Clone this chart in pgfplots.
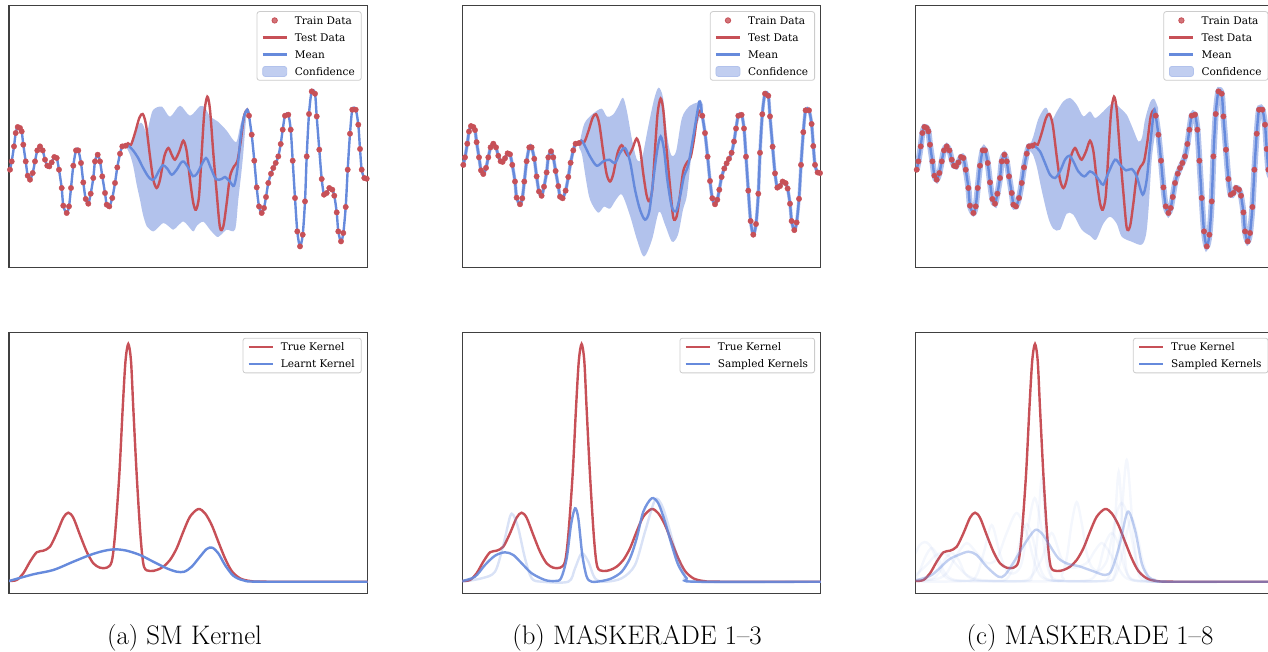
\documentclass[border=0pt]{standalone}
\usepackage{fontspec}
\usepackage{pgfplots}
\pgfplotsset{compat=1.18}
\usepackage{pgfplotstable}
\usepgfplotslibrary{fillbetween}
\newfontfamily\legfont{DejaVu Serif}
\definecolor{kred}{RGB}{199,80,87}
\definecolor{kblue}{RGB}{102,138,220}
\definecolor{kband}{RGB}{178,194,236}
\definecolor{frame}{RGB}{64,64,64}

% shared series (x, y in panel units)
\pgfplotstableread{
x y
10 98
11.7 106.3
14 121.3
15.7 134.7
17.7 140.7
20 139.7
21.7 136.3
23.3 123
25.7 106.3
27.7 92
30 88
32.7 94.7
35 106.3
37.3 117.3
40 121.3
42.7 117.3
45 108
47.3 102
49.3 101.3
51.7 105.3
54.3 110.7
56.7 109.7
59 98
61.7 79.7
63.3 62
66.7 54.7
69 61.3
71 79.7
73.3 102
76 117.3
78.3 117.3
81 104.7
83.3 85.3
85.7 68.7
88.3 64
90.7 74
93.3 89.7
95 106.3
97.7 113
100 106.3
102.3 91.3
105 74.7
106.7 63
109.3 61.3
112.3 69.7
115 84.7
117.3 100.3
120 114
122.3 121.3
125.7 122
}\trainL
\pgfplotstableread{
x y
249 152
251.7 133
254.3 107
256.7 80.3
259 61.3
261.7 54.7
264 59.7
266 70.7
268.3 84.7
271 94
273.3 99.7
275.7 104.7
278.3 111.3
280.7 123.7
282.7 138
285 152
288.3 153
290.7 138
292.7 107
295 69.7
297.3 36.3
300 21.3
302.7 33
305 66.3
306.7 111.3
309 153.7
311.7 176.3
315 174
316.7 151.3
319.3 118
321.7 88.7
324 73
326.7 74.7
329.3 79.7
332.3 78
334.3 72
336.7 55.3
338.3 36.3
341 26.3
343.3 34.7
345.7 60.7
347.7 98
350 134
352.3 158
355.7 158
358.3 143
360 118.7
361.7 98
364.3 89.7
366.7 89
}\trainR
\pgfplotstableread{
x y
125.7 122
128 124.5
131 123
135 134.7
139.3 149.7
142.7 153.7
146 143
150 111.3
153.3 88
156.7 79.7
160 88
164.3 111.3
168.3 119.7
171.7 113
175 108
179.3 116.3
183.3 127
186.7 116.3
190 88
193.3 64.7
196 58
199 71.3
201.7 114.7
204.3 154.7
207.3 171
210 158
213.3 114.7
216.7 74.7
220 40
223.3 41.3
226.7 64.7
230 91.3
234 101.3
237.3 106.3
240.7 126.3
244 151.3
247.3 158
249 152
}\testD
\pgfplotstableread{
x y
9 12
16.7 13
23.3 19.7
30 31.3
36.7 40.7
43.3 42.3
50 46.3
56.7 59.7
63.3 75.3
68.3 80.3
73.3 75.3
80 58
86.7 41.3
93.3 29.7
100 25.3
106.7 25.3
111.7 31.3
115 58
119.3 118
122.7 184.7
125.5 232
128.3 249
131 232
133.3 184.7
136.7 118
140.7 54.7
144 26.3
150 22
156.7 23
163.3 26.3
170 33
176.7 44.7
183.3 61.3
190 76.3
198.3 84
205 79.7
211.7 68
218.3 51.3
225 34.7
231.7 22
240 14.7
250 12
266.7 11.3
367.5 11.3
}\trueK

% panel (a)
\pgfplotstableread{
x y
125.7 122
129 121.5
133.3 117
138 110
143 100
148 91.5
151.7 88
155 89.5
159 97
163 102.5
167.3 99
171.7 93
176.7 98
181 105
184 106
188.3 100
193 91.5
197 94
200 99.7
206 109.7
210.7 100
216 88.5
221.7 88.7
225 90.7
230 86
234 82
237.3 98
240.7 131
244 151
247.3 158
249 152
}\meanA
\pgfplotstableread{
x y
126 122
130 121.3
135 136
140 144.7
143 143
146.7 134.7
150 148
153.3 158
162 161
170 151
180 162
190 152
200 161.5
205 160
210 151.3
218 146
226.7 137
233 128
236.7 126
240 141
243.3 153
246.7 159.5
249 156
}\bandAu
\pgfplotstableread{
x y
126 121
130 113
133.3 101.3
136.7 83
140 68
143 53
147 41
153.3 36.3
158 40
163.3 44.7
168 42
173.3 38
178 42
183.3 46.3
188 42
193.3 36.3
197 42
203.3 46
210 38
216.7 31
220 32
226.7 38
235 38
238.3 68
242.7 108
246.7 154.7
249 150
}\bandAl
\pgfplotstableread{
x y
9 12
33.3 18.7
53.3 23
73.3 31.3
90 38
103.3 42
115 43.7
126.7 42.3
140 38
153.3 31.3
166.7 24.7
176.7 21.3
184.3 21.3
191.7 26.3
200 36.3
206.7 44
212.3 45.3
218.3 39.7
225 28
233.3 17.3
243.3 12.7
260 11.3
367.5 11.3
}\learnt

% panel (b)
\pgfplotstableread{
x y
125.7 122
129 124
136.7 107.4
143.4 97.1
150 101.9
156 103.7
161.7 100.1
166.7 111.1
171.7 116.6
176.7 101.9
181.7 70.8
186.7 48.8
191.7 37.8
196 46.9
200 81.8
204 114.7
207.4 129.3
210.7 114.7
214 81.8
218.4 52.4
222.7 46.9
226.7 63.4
230.7 85.4
235 98.2
240 129.3
245 162.3
246.7 167.5
249 152
}\meanB
\pgfplotstableread{
x y
125.7 119.1
129.7 138.9
132.7 146.6
139.7 154.3
148.4 159.8
153.7 151
159.7 153.2
164.7 162
169.7 171.9
173.7 156.5
178.7 125.7
183.7 103.7
188.7 105.9
194.7 138.9
200.7 169.7
205.2 182.9
209.7 171.9
213.7 131.2
217.7 109.2
222.7 112.5
228.7 149.9
236.7 163.1
243.7 166.4
246.7 169.7
249.7 164.2
}\bandBu
\pgfplotstableread{
x y
125.7 116.9
128.7 109.2
132.7 81.8
136.7 59.8
144.7 45.5
150.7 52.1
156.7 49.9
162.7 59.8
168.7 65.3
176.7 42.2
183.7 15.8
190.7 -2.9
198.7 15.8
205.7 46.6
211.7 32.3
218.7 13.6
224.7 21.3
229.7 48.8
233.7 65.3
238.7 114.7
243.7 142.2
249.7 158.7
}\bandBl
\pgfplotstableread{
x y
9 12
21.7 16.3
31.7 28
41.7 37.3
51.7 40.7
60 38
68.4 29.7
78.4 19.7
91.7 13
101.7 12
107.7 14.7
113.4 34.7
117.7 68
121.7 84.7
125 74.7
129 38
133.4 16.3
138.4 11.3
148.4 12
158.4 14.7
168.4 21.3
176.7 34.7
183.4 54.7
190 81.3
198.4 94.7
205 89.7
211.7 71.3
218.4 48
225 28
233.4 14.7
241.7 11.3
367.5 11.3
}\sampB
\pgfplotstableread{
x y
9 11.3
28.4 14.7
41.7 21.3
50 48
56.7 76.3
60 78
65 64.7
71.7 34.7
78.4 14.7
88.4 11.3
115 11.3
121.7 24.7
128.4 39.7
135 31.3
141.7 14.7
151.7 11.3
168.4 14.7
181.7 28
191.7 61.3
201.7 93
208.4 88
215 68
223.4 38
231.7 18
241.7 11.3
367.5 11.3
}\sampBl

% panel (c)
\pgfplotstableread{
x y
125.7 122
128.3 121.3
133.3 116.3
138.3 104.7
143.3 93
148.3 89.7
153.3 96.3
158.3 108
162.6 112
166.6 106.3
171.6 96.3
177.6 91.3
183.3 96.3
188.3 93
193.3 86.3
196.6 83
201.6 94.7
208.3 108
213.3 103
219.3 97.3
225 98.7
230 91.3
236 73
240 88
243.3 121.3
247.3 157
249 152
}\meanC
\pgfplotstableread{
x y
122.3 120
126.6 131.3
131.3 148
136.6 158
140 159.7
145 148
150 156
156.6 166.3
163.3 169.7
170 163
176.6 151.3
183.3 156.3
188.3 149.7
195 154.7
201.6 161.3
207.3 165
213.3 159.7
220 153
226.6 138
231.6 126.3
235.3 130
238.3 148
243.3 165
247.3 169
251.3 160
}\bandCu
\pgfplotstableread{
x y
122.3 118
126.3 113
130.3 100
135.3 76
141.6 50
146.6 39
153.3 38
160 54
166.6 53
175 38
183.3 32
189.3 28
196.6 44
203.3 51
210 44
215 31
225 26
235 23
239.3 33
241.8 58
245 108
248.3 133
251.3 146
}\bandCl
\pgfplotstableread{
x y
10 13
25 18
41.7 33
51.7 38
61.7 41.3
70 38
80 26.3
91.7 16.3
98.3 18
108.3 33
118.3 49.7
128.3 63
135 59.7
141.7 49.7
151.7 34.7
161.7 29
171.7 27
185 22.3
198.3 18
205 23
213.3 49.7
221 81.3
228.3 63
235 29.7
241.7 16.3
248.3 13
260 11.3
367.5 11.3
}\sampC
\pgfplotstableread{
x y
9 14
13 22
19 37
25 45
31 37
37 22
45 14
60 12
90 12
100 14
108 29
114 55
120 69
126 55
132 29
140 14
160 12
195 12
202 16
205 28
208 66
212 121
216 66
219 28
222 16
230 12
260 11.3
367.5 11.3
}\fA
\pgfplotstableread{
x y
9 12
25 14
32 20
38 33
45 40
52 33
58 20
65 14
80 12
120 12
125 16
128 30
131 60
135 115
139 60
142 30
145 16
150 12
200 12
207 16
210 30
214 66
220 133
226 66
230 30
233 16
240 12
260 11.3
367.5 11.3
}\fB
\pgfplotstableread{
x y
9 40
13 48
18 51
23 48
28 38
34 22
42 14
60 12
150 12
155 18
160 35
165 70
170 91
175 70
180 40
185 26
192 22
200 32
205 55
210 80
215 90
220 80
225 55
230 30
236 16
245 12
260 11.3
367.5 11.3
}\fC
\pgfplotstableread{
x y
9 11.5
60 12
70 18
77 40
85 68
93 40
100 22
108 20
115 30
122 70
128 95
134 70
140 30
147 14
170 12
185 14
192 25
198 48
205 60
212 48
218 25
225 14
240 12
260 11.3
367.5 11.3
}\fD
\pgfplotstableread{
x y
9 12
30 14
40 20
50 38
60 50
70 40
80 30
90 34
100 60
110 80
120 60
128 30
135 16
150 12
200 12
208 16
214 32
219 56
225 75
231 56
236 32
242 16
250 12
260 11.3
367.5 11.3
}\fE
\pgfplotstableread{
x y
9 18
20 28
28 37
35 40
42 37
50 28
60 18
75 13
115 12
125 17
135 34
145 60
155 34
165 25
180 30
188 42
195 50
202 42
210 28
218 16
230 12
260 11.3
367.5 11.3
}\fF

\pgfplotsset{
  panel/.style={scale only axis, width=358.5pt, xmin=9, xmax=367.5,
    xtick=\empty, ytick=\empty, anchor=south west,
    axis line style={draw=frame, line width=1.3pt},
    legend cell align=left,
    legend image code/.code={\draw[mark repeat=2,mark phase=2,##1] plot coordinates {(0pt,0pt) (12pt,0pt) (24pt,0pt)};},
    legend style={at={(1,1)}, anchor=north east, xshift=-5.8pt, yshift=-5.5pt,
      draw=black!20, line width=0.8pt, rounded corners=2.5pt, fill=white,
      fill opacity=0.8, text opacity=1,
      font=\legfont\fontsize{10.5}{12}\selectfont,
      inner xsep=4.5pt, inner ysep=3pt, row sep=5.3pt, column sep=5pt,
      nodes={text height=7.7pt, text depth=0pt}},
  },
  toprow/.style={panel, height=262pt, ymin=0, ymax=262},
  botrow/.style={panel, height=261pt, ymin=-0.3, ymax=260.7},
  dots/.style={only marks, mark=*, mark size=2.7pt, kred},
  ln/.style={line width=2.4pt, smooth, line cap=round},
}

\begin{document}
\begin{tikzpicture}

% ---------- top row ----------
\begin{axis}[toprow, at={(9pt,383.3pt)}]
\addplot[name path=u1, draw=none, smooth, forget plot] table {\bandAu};
\addplot[name path=l1, draw=none, smooth, forget plot] table {\bandAl};
\addplot[kband, forget plot] fill between[of=u1 and l1];
\addplot[dots, forget plot] table {\trainL};
\addplot[dots, forget plot] table {\trainR};
\addplot[kred, ln, forget plot] table {\testD};
\addplot[kblue, ln, forget plot] table {\trainL};
\addplot[kblue, ln, forget plot] table {\meanA};
\addplot[kblue, ln, forget plot] table {\trainR};
\addlegendimage{dots}
\addlegendentry{Train Data}
\addlegendimage{kred, line width=2.4pt}
\addlegendentry{Test Data}
\addlegendimage{kblue, line width=2.4pt}
\addlegendentry{Mean}
\addlegendimage{legend image code/.code={\fill[kband] (0pt,-5pt) rectangle (24pt,5pt);}}
\addlegendentry{Confidence}
\end{axis}

\begin{axis}[toprow, ymin=-15, ymax=273, at={(462.3pt,383.3pt)}]
\addplot[name path=u2, draw=none, smooth, forget plot] table {\bandBu};
\addplot[name path=l2, draw=none, smooth, forget plot] table {\bandBl};
\addplot[kband, forget plot] fill between[of=u2 and l2];
\addplot[kband, line width=3.5pt, smooth, forget plot] table {\trainL};
\addplot[kband, line width=3.5pt, smooth, forget plot] table {\trainR};
\addplot[dots, forget plot] table {\trainL};
\addplot[dots, forget plot] table {\trainR};
\addplot[kred, ln, forget plot] table {\testD};
\addplot[kblue, ln, forget plot] table {\trainL};
\addplot[kblue, ln, forget plot] table {\meanB};
\addplot[kblue, ln, forget plot] table {\trainR};
\addlegendimage{dots}
\addlegendentry{Train Data}
\addlegendimage{kred, line width=2.4pt}
\addlegendentry{Test Data}
\addlegendimage{kblue, line width=2.4pt}
\addlegendentry{Mean}
\addlegendimage{legend image code/.code={\fill[kband] (0pt,-5pt) rectangle (24pt,5pt);}}
\addlegendentry{Confidence}
\end{axis}

\begin{axis}[toprow, at={(915.7pt,383.3pt)}]
\addplot[name path=u3, draw=none, smooth, forget plot] table {\bandCu};
\addplot[name path=l3, draw=none, smooth, forget plot] table {\bandCl};
\addplot[kband, forget plot] fill between[of=u3 and l3];
\addplot[kband, line width=6pt, smooth, forget plot] table {\trainL};
\addplot[kband, line width=6pt, smooth, forget plot] table {\trainR};
\addplot[dots, forget plot] table {\trainL};
\addplot[dots, forget plot] table {\trainR};
\addplot[kred, ln, forget plot] table {\testD};
\addplot[kblue, ln, forget plot] table {\trainL};
\addplot[kblue, ln, forget plot] table {\meanC};
\addplot[kblue, ln, forget plot] table {\trainR};
\addlegendimage{dots}
\addlegendentry{Train Data}
\addlegendimage{kred, line width=2.4pt}
\addlegendentry{Test Data}
\addlegendimage{kblue, line width=2.4pt}
\addlegendentry{Mean}
\addlegendimage{legend image code/.code={\fill[kband] (0pt,-5pt) rectangle (24pt,5pt);}}
\addlegendentry{Confidence}
\end{axis}

% ---------- bottom row ----------
\begin{axis}[botrow, at={(9pt,57.7pt)}]
\addplot[kred, ln, forget plot] table {\trueK};
\addplot[kblue, ln, forget plot] table {\learnt};
\addlegendimage{kred, line width=2.4pt}
\addlegendentry{True Kernel}
\addlegendimage{kblue, line width=2.4pt}
\addlegendentry{Learnt Kernel}
\end{axis}

\begin{axis}[botrow, at={(462.3pt,57.7pt)}]
\addplot[kred, ln, forget plot] table {\trueK};
\addplot[kblue, ln, opacity=0.25, forget plot] table {\sampBl};
\addplot[kblue, ln, opacity=0.9, forget plot] table {\sampB};
\addlegendimage{kred, line width=2.4pt}
\addlegendentry{True Kernel}
\addlegendimage{kblue, line width=2.4pt}
\addlegendentry{Sampled Kernels}
\end{axis}

\begin{axis}[botrow, at={(915.7pt,57.7pt)}]
\addplot[kred, ln, forget plot] table {\trueK};
\addplot[kblue, ln, opacity=0.07, forget plot] table {\fA};
\addplot[kblue, ln, opacity=0.07, forget plot] table {\fB};
\addplot[kblue, ln, opacity=0.07, forget plot] table {\fC};
\addplot[kblue, ln, opacity=0.07, forget plot] table {\fD};
\addplot[kblue, ln, opacity=0.07, forget plot] table {\fE};
\addplot[kblue, ln, opacity=0.07, forget plot] table {\fF};
\addplot[kblue, ln, opacity=0.4, forget plot] table {\sampC};
\addlegendimage{kred, line width=2.4pt}
\addlegendentry{True Kernel}
\addlegendimage{kblue, line width=2.4pt}
\addlegendentry{Sampled Kernels}
\end{axis}

% ---------- captions ----------
\begin{scope}[every node/.style={anchor=base, font=\fontsize{26.8}{32}\selectfont}]
\node at (184.5pt,7pt) {(a) SM Kernel};
\node at (637pt,7pt) {(b) MASKERADE 1--3};
\node at (1090pt,7pt) {(c) MASKERADE 1--8};
\end{scope}

\pgfresetboundingbox
\path[use as bounding box] (0pt,0pt) rectangle (1268pt,651pt);
\end{tikzpicture}
\end{document}
